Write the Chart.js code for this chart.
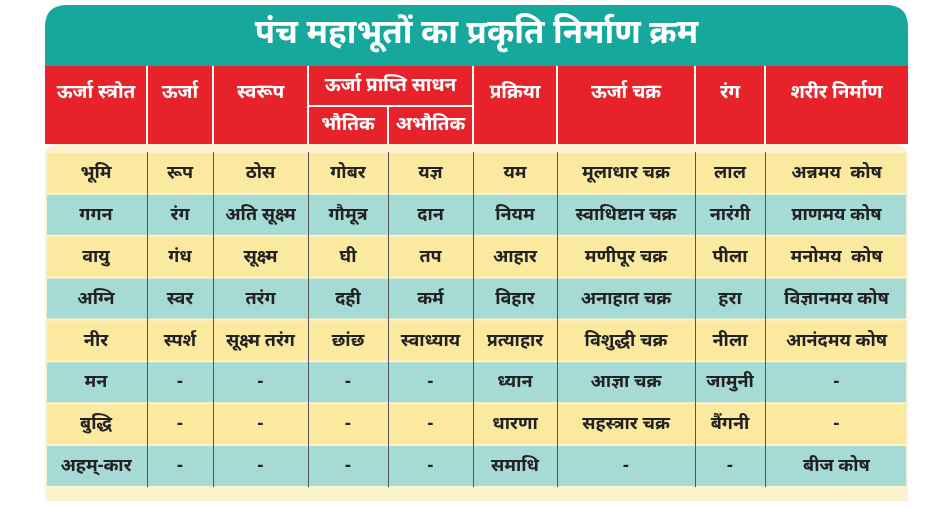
<!DOCTYPE html>
<html><head><meta charset="utf-8">
<script src="https://cdn.jsdelivr.net/npm/chart.js@4/dist/chart.umd.min.js"></script>
<style>html,body{margin:0;background:#fff}#w{width:941px;height:510px}</style>
</head><body><div id="w"><canvas id="c"></canvas></div>
<script>
const title = "पंच महाभूतों का प्रकृति निर्माण क्रम";
const headers = ["ऊर्जा स्त्रोत","ऊर्जा","स्वरूप","भौतिक","अभौतिक","प्रक्रिया","ऊर्जा चक्र","रंग","शरीर निर्माण"];
const groupHeader = "ऊर्जा प्राप्ति साधन";
const colSource = ["भूमि","गगन","वायु","अग्नि","नीर","मन","बुद्धि","अहम्-कार"];
const colEnergy = ["रूप","रंग","गंध","स्वर","स्पर्श","-","-","-"];
const colForm = ["ठोस","अति सूक्ष्म","सूक्ष्म","तरंग","सूक्ष्म तरंग","-","-","-"];
const colPhysical = ["गोबर","गौमूत्र","घी","दही","छांछ","-","-","-"];
const colNonPhysical = ["यज्ञ","दान","तप","कर्म","स्वाध्याय","-","-","-"];
const colProcess = ["यम","नियम","आहार","विहार","प्रत्याहार","ध्यान","धारणा","समाधि"];
const colChakra = ["मूलाधार चक्र","स्वाधिष्टान चक्र","मणीपूर चक्र","अनाहात चक्र","विशुद्धी चक्र","आज्ञा चक्र","सहस्त्रार चक्र","-"];
const colColour = ["लाल","नारंगी","पीला","हरा","नीला","जामुनी","बैंगनी","-"];
const colBody = ["अन्नमय  कोष","प्राणमय कोष","मनोमय  कोष","विज्ञानमय कोष","आनंदमय कोष","-","-","बीज कोष"];
const columns = [colSource,colEnergy,colForm,colPhysical,colNonPhysical,colProcess,colChakra,colColour,colBody];
// layout
const colWidths = [102,66,95,80,85,84,138,70,143];
const FONT = '"Noto Sans","Noto Sans Devanagari",sans-serif';
const edges = [0]; colWidths.forEach(w=>edges.push(edges[edges.length-1]+w));

function rr(ctx,x,y,w,h,r){ctx.beginPath();ctx.moveTo(x+r,y);ctx.lineTo(x+w-r,y);ctx.quadraticCurveTo(x+w,y,x+w,y+r);ctx.lineTo(x+w,y+h);ctx.lineTo(x,y+h);ctx.lineTo(x,y+r);ctx.quadraticCurveTo(x,y,x+r,y);ctx.closePath();}

const tablePlugin = {
  id:'table',
  beforeDatasetsDraw(chart){
    const ctx=chart.ctx, xs=chart.scales.x, ys=chart.scales.y;
    const L=xs.getPixelForValue(0), R=xs.getPixelForValue(edges[edges.length-1]);
    const T=ys.getPixelForValue(0), B=ys.getPixelForValue(colSource.length);
    ctx.save();
    // title band
    ctx.fillStyle='#16a89c'; rr(ctx,L,5,R-L,62,22); ctx.fill();
    ctx.fillStyle='#fff'; ctx.font='bold 33px '+FONT; ctx.textAlign='center'; ctx.textBaseline='middle';
    ctx.fillText(title,(L+R)/2,34);
    // red header
    const hT=66,hM=106,hB=T-8;
    ctx.fillStyle='#e8222b'; ctx.fillRect(L,hT,R-L,hB-hT);
    // cream body panel
    ctx.fillStyle='#fbf2cf'; rr(ctx,L,hB,R-L,B-hB+14,14); ctx.fill();
    ctx.strokeStyle='#fff'; ctx.lineWidth=2;
    for(let i=1;i<edges.length-1;i++){
      const x=xs.getPixelForValue(edges[i]);
      ctx.beginPath();
      if(i===4){ctx.moveTo(x,hM);}else ctx.moveTo(x,hT);
      ctx.lineTo(x,hB);ctx.stroke();
    }
    const g0=xs.getPixelForValue(edges[3]), g1=xs.getPixelForValue(edges[5]);
    ctx.beginPath();ctx.moveTo(g0,hM);ctx.lineTo(g1,hM);ctx.stroke();
    ctx.fillStyle='#fff'; ctx.font='bold 19px '+FONT;
    ctx.fillText(groupHeader,(g0+g1)/2,(hT+hM)/2);
    headers.forEach((h,i)=>{
      const cx=xs.getPixelForValue((edges[i]+edges[i+1])/2);
      const cy=(i===3||i===4)?(hM+hB)/2:(hT+hB)/2-12;
      ctx.fillText(h,cx,cy);
    });
    // rows
    for(let r=0;r<colSource.length;r++){
      const y0=ys.getPixelForValue(r), y1=ys.getPixelForValue(r+1);
      ctx.fillStyle = r%2===0?'#fbe9a0':'#a6dad4';
      ctx.fillRect(L+2,y0+1,R-L-4,y1-y0-2);
    }
    ctx.strokeStyle='#555'; ctx.lineWidth=1;
    for(let i=1;i<edges.length-1;i++){
      const x=Math.round(xs.getPixelForValue(edges[i]))+0.5;
      ctx.beginPath();ctx.moveTo(x,T);ctx.lineTo(x,B);ctx.stroke();
    }
    ctx.fillStyle='#222'; ctx.font='bold 18px '+FONT;
    columns.forEach((col,i)=>{
      const cx=xs.getPixelForValue((edges[i]+edges[i+1])/2);
      col.forEach((t,r)=>ctx.fillText(t,cx,ys.getPixelForValue(r+0.5)));
    });
    ctx.restore();
  }
};

new Chart(document.getElementById('c'),{
  type:'scatter',
  data:{datasets:[{data:[]}]},
  options:{
    responsive:true,maintainAspectRatio:false,animation:false,
    layout:{padding:{left:45,right:33,top:152,bottom:23}},
    plugins:{legend:{display:false},tooltip:{enabled:false}},
    scales:{
      x:{type:'linear',min:0,max:edges[edges.length-1],display:false},
      y:{type:'linear',min:0,max:colSource.length,reverse:true,display:false}
    }
  },
  plugins:[tablePlugin]
});
</script></body></html>
